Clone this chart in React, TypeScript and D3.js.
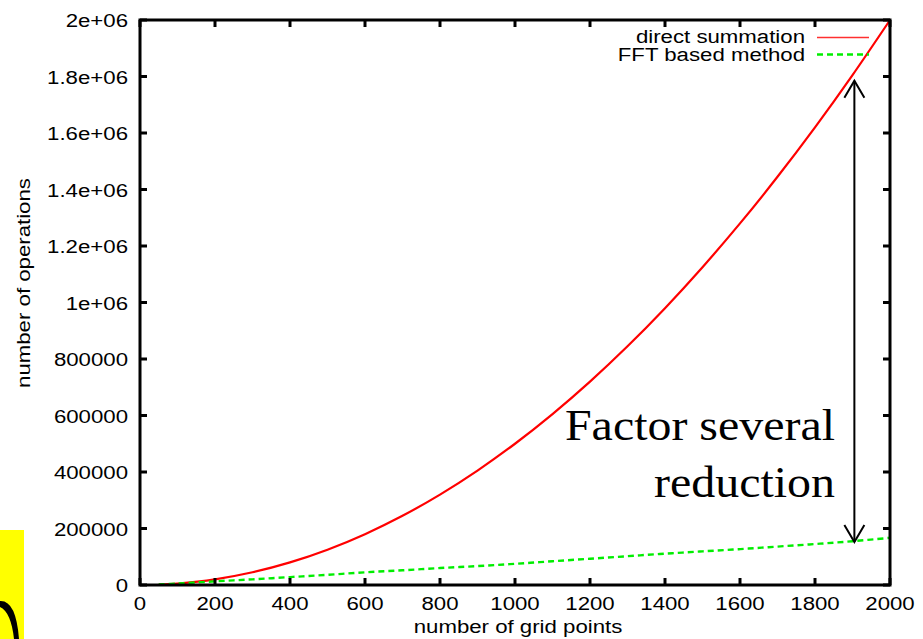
import React from "react";
import * as d3 from "d3";

const gridPoints = [50, 100, 200, 300, 400, 500, 600, 700, 800, 900, 1000, 1100, 1200, 1300, 1400, 1500, 1600, 1700, 1800, 1900, 2000];
const directSummation = [1250, 5000, 20000, 45000, 80000, 125000, 180000, 245000, 320000, 405000, 500000, 605000, 720000, 845000, 980000, 1125000, 1280000, 1445000, 1620000, 1805000, 2000000];
const fftMethod = [2000, 5000, 13000, 20000, 28000, 36000, 45000, 52000, 60000, 67000, 75000, 84000, 93000, 102000, 111000, 119000, 127000, 136000, 145000, 155000, 167000];
const xTicks = [0, 200, 400, 600, 800, 1000, 1200, 1400, 1600, 1800, 2000];
const yTicks = [0, 200000, 400000, 600000, 800000, 1000000, 1200000, 1400000, 1600000, 1800000, 2000000];
const yTickLabels = ["0", "200000", "400000", "600000", "800000", "1e+06", "1.2e+06", "1.4e+06", "1.6e+06", "1.8e+06", "2e+06"];
const seriesNames = ["direct summation", "FFT based method"];
const annotationLines = ["Factor several", "reduction"];
const arrowAt = 1905;
const arrowFrom = 152000;
const arrowTo = 1785000;

const W = 923;
const H = 639;
const L = 140, R = 890, T = 20, B = 585;
const SX = 1.17;
const sans = "'Liberation Sans', Arial, sans-serif";
const serif = "'Liberation Serif', 'Times New Roman', serif";

export default function App() {
  const x = d3.scaleLinear().domain([0, 2000]).range([L, R]);
  const y = d3.scaleLinear().domain([0, 2000000]).range([B, T]);
  const redPts = gridPoints.map((g, i) => [g, directSummation[i]] as [number, number]);
  const greenPts = gridPoints.map((g, i) => [g, fftMethod[i]] as [number, number]);
  const line = d3
    .line<[number, number]>()
    .x((d) => x(d[0]))
    .y((d) => y(d[1]))
    .curve(d3.curveCatmullRom);
  const tl = 7;
  const ax = x(arrowAt);
  const aTop = y(arrowTo);
  const aBot = y(arrowFrom);
  return (
    <svg
      width={W}
      height={H}
      style={{ position: "absolute", left: 0, top: 0, background: "#fff" }}
    >
      <rect x={0} y={0} width={W} height={H} fill="#fff" />
      {/* yellow slide fragment */}
      <rect x={0} y={530} width={24} height={109} fill="#ffff00" />
      <path d="M0,601 Q16,600 19,639 L14,639 Q11,612 0,607 Z" fill="#000" />

      {/* data */}
      <path d={line(redPts) || ""} fill="none" stroke="#ff0000" strokeWidth={2.2} />
      <path
        d={line(greenPts) || ""}
        fill="none"
        stroke="#00ee00"
        strokeWidth={2.4}
        strokeDasharray="6,4"
      />

      {/* frame */}
      <rect x={L} y={T} width={R - L} height={B - T} fill="none" stroke="#000" strokeWidth={3} />
      {xTicks.map((t) => (
        <g key={"xt" + t}>
          <line x1={x(t)} x2={x(t)} y1={B} y2={B - tl} stroke="#000" strokeWidth={3} />
          <line x1={x(t)} x2={x(t)} y1={T} y2={T + tl} stroke="#000" strokeWidth={3} />
          <text
            transform={`translate(${x(t)},${610}) scale(${SX},1)`}
            textAnchor="middle"
            fontFamily={sans}
            fontSize={19}
            fill="#000"
          >
            {String(t)}
          </text>
        </g>
      ))}
      {yTicks.map((t, i) => (
        <g key={"yt" + t}>
          <line x1={L} x2={L + tl} y1={y(t)} y2={y(t)} stroke="#000" strokeWidth={3} />
          <line x1={R} x2={R - tl} y1={y(t)} y2={y(t)} stroke="#000" strokeWidth={3} />
          <text
            transform={`translate(128,${y(t) + 7}) scale(${SX},1)`}
            textAnchor="end"
            fontFamily={sans}
            fontSize={19}
            fill="#000"
          >
            {yTickLabels[i]}
          </text>
        </g>
      ))}

      {/* axis titles */}
      <text
        transform={`translate(518,633) scale(${SX},1)`}
        textAnchor="middle"
        fontFamily={sans}
        fontSize={19}
        fill="#000"
      >
        number of grid points
      </text>
      <text
        transform={`translate(30,283) rotate(-90) scale(${SX},1)`}
        textAnchor="middle"
        fontFamily={sans}
        fontSize={19}
        fill="#000"
      >
        number of operations
      </text>

      {/* legend */}
      <text
        transform={`translate(805,43) scale(${SX},1)`}
        textAnchor="end"
        fontFamily={sans}
        fontSize={19}
        fill="#000"
      >
        {seriesNames[0]}
      </text>
      <line x1={817} x2={869} y1={37.5} y2={37.5} stroke="#ff3030" strokeWidth={1.3} />
      <text
        transform={`translate(805,61) scale(${SX},1)`}
        textAnchor="end"
        fontFamily={sans}
        fontSize={19}
        fill="#000"
      >
        {seriesNames[1]}
      </text>
      <line
        x1={817}
        x2={869}
        y1={54.5}
        y2={54.5}
        stroke="#00ee00"
        strokeWidth={2.4}
        strokeDasharray="6,4"
      />

      {/* annotation */}
      <text
        transform={`translate(835,440) scale(1.065,1)`}
        textAnchor="end"
        fontFamily={serif}
        fontSize={45}
        fill="#000"
      >
        {annotationLines[0]}
      </text>
      <text
        transform={`translate(835,497) scale(1.065,1)`}
        textAnchor="end"
        fontFamily={serif}
        fontSize={45}
        fill="#000"
      >
        {annotationLines[1]}
      </text>
      <line x1={ax} x2={ax} y1={aTop} y2={aBot} stroke="#000" strokeWidth={2} />
      <polyline
        points={`${ax - 10},${aTop + 17} ${ax},${aTop} ${ax + 10},${aTop + 17}`}
        fill="none"
        stroke="#000"
        strokeWidth={2}
      />
      <polyline
        points={`${ax - 10},${aBot - 17} ${ax},${aBot} ${ax + 10},${aBot - 17}`}
        fill="none"
        stroke="#000"
        strokeWidth={2}
      />
    </svg>
  );
}
